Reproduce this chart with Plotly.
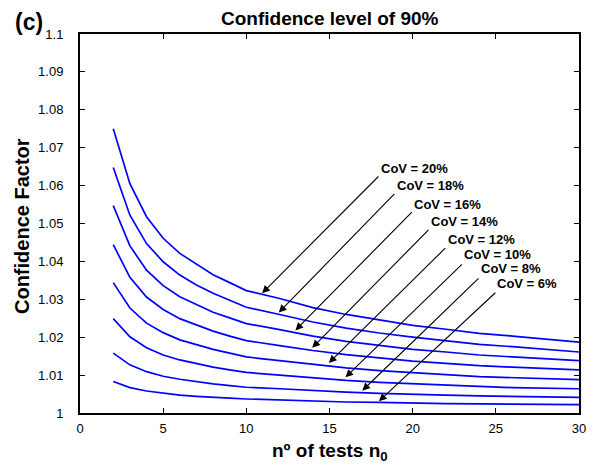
import plotly.graph_objects as go

# ---------------- data ----------------
n_tests = [2, 3, 4, 5, 6, 7, 8, 9, 10, 12, 14, 16, 18, 20, 22, 24, 26, 28, 30]

cov_20 = [1.0750, 1.0605, 1.0518, 1.0461, 1.0421, 1.0392, 1.0365, 1.0344, 1.0323, 1.0302,
          1.0278, 1.0260, 1.0245, 1.0231, 1.0221, 1.0210, 1.0203, 1.0194, 1.0187]
cov_18 = [1.0648, 1.0522, 1.0447, 1.0399, 1.0364, 1.0338, 1.0316, 1.0297, 1.0279, 1.0260,
          1.0240, 1.0224, 1.0211, 1.0200, 1.0191, 1.0181, 1.0175, 1.0168, 1.0161]
cov_16 = [1.0547, 1.0441, 1.0377, 1.0336, 1.0307, 1.0286, 1.0266, 1.0251, 1.0236, 1.0220,
          1.0203, 1.0189, 1.0178, 1.0168, 1.0161, 1.0153, 1.0148, 1.0142, 1.0138]
cov_14 = [1.0444, 1.0358, 1.0306, 1.0273, 1.0249, 1.0232, 1.0216, 1.0203, 1.0191, 1.0178,
          1.0165, 1.0154, 1.0145, 1.0137, 1.0131, 1.0125, 1.0121, 1.0117, 1.0114]
cov_12 = [1.0344, 1.0277, 1.0237, 1.0212, 1.0193, 1.0180, 1.0168, 1.0158, 1.0148, 1.0138,
          1.0128, 1.0119, 1.0112, 1.0106, 1.0101, 1.0096, 1.0093, 1.0090, 1.0088]
cov_10 = [1.0249, 1.0201, 1.0172, 1.0153, 1.0140, 1.0130, 1.0121, 1.0114, 1.0107, 1.0100,
          1.0092, 1.0086, 1.0081, 1.0077, 1.0073, 1.0070, 1.0067, 1.0065, 1.0064]
cov_8 = [1.0158, 1.0127, 1.0109, 1.0097, 1.0089, 1.0082, 1.0077, 1.0072, 1.0068, 1.0064,
         1.0059, 1.0055, 1.0052, 1.0049, 1.0047, 1.0045, 1.0043, 1.0042, 1.0041]
cov_6 = [1.0083, 1.0067, 1.0058, 1.0052, 1.0047, 1.0044, 1.0041, 1.0039, 1.0037, 1.0034,
         1.0031, 1.0029, 1.0028, 1.0026, 1.0025, 1.0024, 1.0023, 1.0022, 1.0022]

series = [cov_20, cov_18, cov_16, cov_14, cov_12, cov_10, cov_8, cov_6]
cov_labels = ["CoV = 20%", "CoV = 18%", "CoV = 16%", "CoV = 14%",
              "CoV = 12%", "CoV = 10%", "CoV = 8%", "CoV = 6%"]

x_tick_vals = [0, 5, 10, 15, 20, 25, 30]
x_tick_labels = ["0", "5", "10", "15", "20", "25", "30"]
y_tick_vals = [1.00, 1.01, 1.02, 1.03, 1.04, 1.05, 1.06, 1.07, 1.08, 1.09, 1.10]
y_tick_labels = ["1", "1.01", "1.02", "1.03", "1.04", "1.05", "1.06", "1.07", "1.08", "1.09", "1.1"]

# annotation geometry (label centre, arrow tail, arrow tip) in data units
label_pos = [(20.08, 1.0646), (21.10, 1.0600), (22.09, 1.0551), (23.11, 1.0505),
             (24.12, 1.0459), (25.10, 1.0417), (25.90, 1.0380), (26.87, 1.0341)]
arrow_tail = [(18.03, 1.0628), (18.99, 1.0582), (20.04, 1.0534), (21.04, 1.0487),
              (22.05, 1.0439), (23.05, 1.0396), (24.05, 1.0359), (25.06, 1.0321)]
arrow_tip = [(10.95, 1.0316), (11.95, 1.0265), (12.95, 1.0218), (13.96, 1.0172),
             (14.96, 1.0132), (15.96, 1.0094), (16.97, 1.0059), (17.97, 1.0031)]

FONT = "Liberation Sans, Arial, Helvetica, sans-serif"

fig = go.Figure()
for vals, name in zip(series, cov_labels):
    fig.add_trace(go.Scatter(x=n_tests, y=vals, mode="lines", name=name,
                             line=dict(color="#0000FF", width=1.7), showlegend=False))

annotations = []
for (tx, ty), (ax, ay), (px, py), lab in zip(label_pos, arrow_tail, arrow_tip, cov_labels):
    annotations.append(dict(x=px, y=py, ax=ax, ay=ay, xref="x", yref="y", axref="x", ayref="y",
                            text="", showarrow=True, arrowhead=2, arrowsize=1.4,
                            arrowwidth=1.1, arrowcolor="black", standoff=0))
    annotations.append(dict(x=tx, y=ty, xref="x", yref="y", text="<b>" + lab + "</b>",
                            showarrow=False, xanchor="center", yanchor="middle",
                            font=dict(family=FONT, size=13, color="black")))

annotations += [
    dict(x=0.5, y=1.042, xref="paper", yref="paper", text="<b>Confidence level of 90%</b>",
         showarrow=False, xanchor="center", yanchor="middle",
         font=dict(family=FONT, size=19, color="black")),
    dict(x=-0.1345, y=1.032, xref="paper", yref="paper", text="<b>(c)</b>",
         showarrow=False, xanchor="left", yanchor="middle",
         font=dict(family=FONT, size=23, color="black")),
    dict(x=0.5, y=-0.103, xref="paper", yref="paper",
         text="<b>n\u00ba of tests n<sub>0</sub></b>",
         showarrow=False, xanchor="center", yanchor="middle",
         font=dict(family=FONT, size=19, color="black")),
    dict(x=-0.1165, y=0.493, xref="paper", yref="paper", text="<b>Confidence Factor</b>",
         textangle=-90, showarrow=False, xanchor="center", yanchor="middle",
         font=dict(family=FONT, size=20, color="black")),
]

axis_common = dict(showline=True, linecolor="black", linewidth=2, mirror="ticks",
                   ticks="inside", ticklen=5, tickwidth=1, tickcolor="black",
                   showgrid=False, zeroline=False,
                   tickfont=dict(family=FONT, size=13, color="black"))

# page body adds an 8px offset, so the figure is 8px smaller with margins reduced by 8px
fig.update_layout(
    width=590, height=460,
    margin=dict(l=72, r=12, t=26, b=55),
    plot_bgcolor="white", paper_bgcolor="white",
    xaxis=dict(range=[0, 30], tickvals=x_tick_vals, ticktext=x_tick_labels,
               ticklabelstandoff=2, **axis_common),
    yaxis=dict(range=[1, 1.1], tickvals=y_tick_vals, ticktext=y_tick_labels,
               ticklabelstandoff=12, **axis_common),
    annotations=annotations,
)

fig.write_html("out.html")
